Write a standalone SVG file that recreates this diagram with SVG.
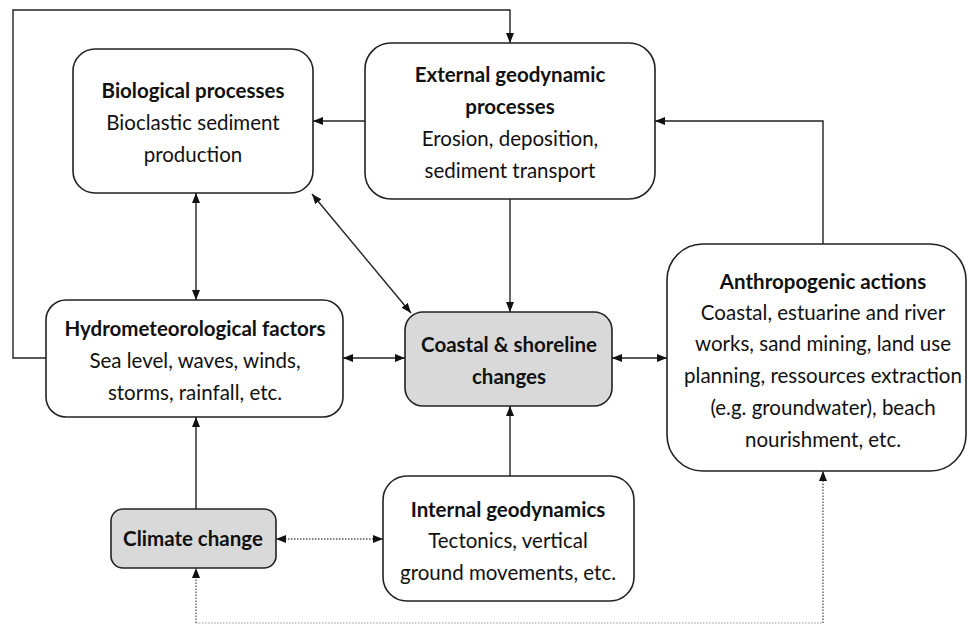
<svg xmlns="http://www.w3.org/2000/svg" width="968" height="624" viewBox="0 0 968 624">
<style>
.box{fill:#fff;stroke:#222;stroke-width:1.6}
.gray{fill:#d9d9d9}
.t{font-family:Lato,"Liberation Sans",sans-serif;font-size:20.5px;fill:#111;text-anchor:middle}
.b{font-weight:bold}
.c{fill:none;stroke:#222;stroke-width:1.4}
.d{fill:none;stroke:#555;stroke-width:1.3;stroke-dasharray:1.5 1.5}
.df{fill:none;stroke:#999;stroke-width:1.2;stroke-dasharray:1.5 1.5}
</style>
<defs>
<marker id="ah" viewBox="0 0 10 10" refX="10" refY="5" markerWidth="10" markerHeight="10" markerUnits="userSpaceOnUse" orient="auto-start-reverse">
<path d="M0,1 L10,5 L0,9 Z" fill="#111"/>
</marker>
</defs>
<rect width="968" height="624" fill="#fff"/>
<g id="connectors">
<polyline class="c" points="46,358 13,358 13,10 510,10 510,43" marker-end="url(#ah)"/>
<line class="c" x1="365" y1="121" x2="313" y2="121" marker-end="url(#ah)"/>
<polyline class="c" points="823,244 823,121 655,121" marker-end="url(#ah)"/>
<line class="c" x1="196" y1="193" x2="196" y2="300" marker-start="url(#ah)" marker-end="url(#ah)"/>
<line class="c" x1="312" y1="194" x2="411" y2="313" marker-start="url(#ah)" marker-end="url(#ah)"/>
<line class="c" x1="510" y1="199" x2="510" y2="312" marker-end="url(#ah)"/>
<line class="c" x1="343" y1="358" x2="405" y2="358" marker-start="url(#ah)" marker-end="url(#ah)"/>
<line class="c" x1="612" y1="358" x2="667" y2="358" marker-start="url(#ah)" marker-end="url(#ah)"/>
<line class="c" x1="196" y1="509" x2="196" y2="417" marker-end="url(#ah)"/>
<line class="d" x1="276" y1="539" x2="383" y2="539" marker-start="url(#ah)" marker-end="url(#ah)"/>
<line class="c" x1="510" y1="476" x2="510" y2="406" marker-end="url(#ah)"/>
<line class="d" x1="196" y1="623" x2="196" y2="568" marker-end="url(#ah)"/>
<line class="d" x1="823" y1="623" x2="823" y2="471" marker-end="url(#ah)"/>
<line class="df" x1="196" y1="623" x2="823" y2="623"/>
</g>
<g id="bio">
<rect class="box" x="73" y="49" width="240" height="144" rx="22"/>
<text class="t b" x="193" y="98">Biological processes</text>
<text class="t" x="193" y="130">Bioclastic sediment</text>
<text class="t" x="193" y="162">production</text>
</g>
<g id="external">
<rect class="box" x="365" y="43" width="290" height="156" rx="26"/>
<text class="t b" x="510" y="82">External geodynamic</text>
<text class="t b" x="510" y="114">processes</text>
<text class="t" x="510" y="146">Erosion, deposition,</text>
<text class="t" x="510" y="178">sediment transport</text>
</g>
<g id="hydro">
<rect class="box" x="46" y="300" width="297" height="117" rx="20"/>
<text class="t b" x="195" y="336">Hydrometeorological factors</text>
<text class="t" x="195" y="368">Sea level, waves, winds,</text>
<text class="t" x="195" y="400">storms, rainfall, etc.</text>
</g>
<g id="coastal">
<rect class="box gray" x="405" y="312" width="207" height="94" rx="18"/>
<text class="t b" x="509" y="352">Coastal &amp; shoreline</text>
<text class="t b" x="509" y="384">changes</text>
</g>
<g id="anthro">
<rect class="box" x="667" y="244" width="299" height="227" rx="36"/>
<text class="t b" x="823" y="289">Anthropogenic actions</text>
<text class="t" x="823" y="320">Coastal, estuarine and river</text>
<text class="t" x="823" y="351">works, sand mining, land use</text>
<text class="t" x="823" y="383">planning, ressources extraction</text>
<text class="t" x="823" y="415">(e.g. groundwater), beach</text>
<text class="t" x="823" y="447">nourishment, etc.</text>
</g>
<g id="climate">
<rect class="box gray" x="111" y="509" width="165" height="59" rx="12"/>
<text class="t b" x="193" y="546">Climate change</text>
</g>
<g id="internal">
<rect class="box" x="383" y="476" width="251" height="125" rx="24"/>
<text class="t b" x="508" y="517">Internal geodynamics</text>
<text class="t" x="508" y="548">Tectonics, vertical</text>
<text class="t" x="508" y="580">ground movements, etc.</text>
</g>
</svg>
